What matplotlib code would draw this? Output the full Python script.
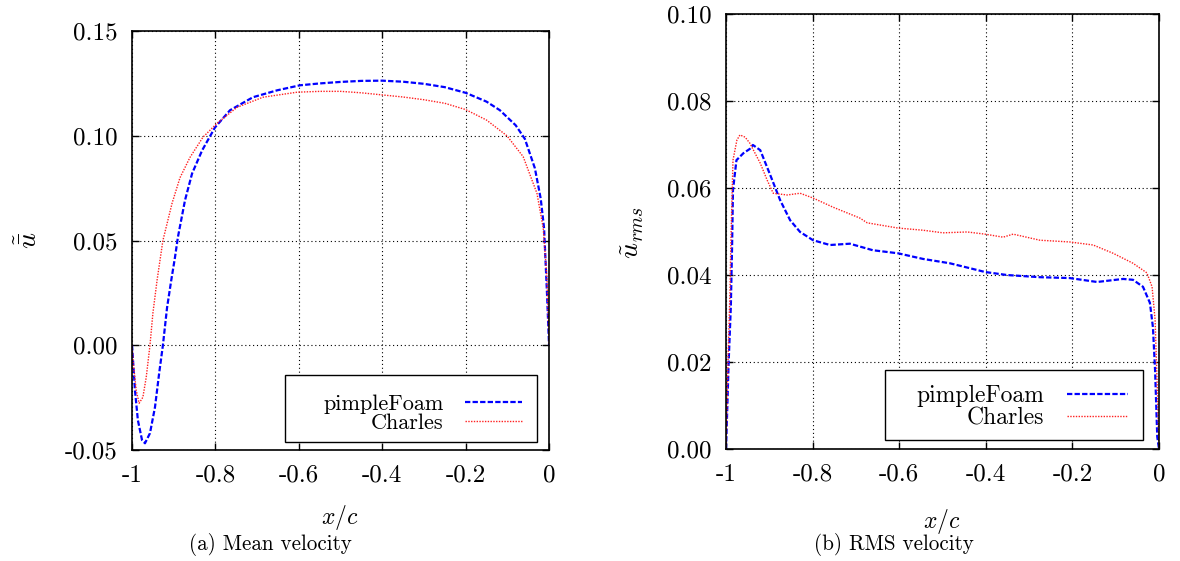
import matplotlib
matplotlib.use('Agg')
import matplotlib.pyplot as plt
from matplotlib.patches import Rectangle

# Mean velocity, pimpleFoam
mean_pf_x = [-1.0, -0.993, -0.986, -0.976, -0.969, -0.957, -0.945, -0.935, -0.926, -0.916,
             -0.906, -0.897, -0.890, -0.873, -0.856, -0.832, -0.801, -0.765, -0.710, -0.652,
             -0.597, -0.549, -0.5, -0.45, -0.4, -0.35, -0.3, -0.25, -0.2, -0.15,
             -0.118, -0.08, -0.058, -0.034, -0.02, -0.012, -0.005, 0.0]
mean_pf_y = [0.0, -0.0215, -0.0358, -0.0453, -0.0468, -0.042, -0.0296, -0.0134, 0.0, 0.018,
             0.031, 0.042, 0.0516, 0.0692, 0.082, 0.093, 0.104, 0.1122, 0.1184, 0.1217,
             0.1241, 0.125, 0.1257, 0.1262, 0.1263, 0.1258, 0.1248, 0.1232, 0.1205, 0.1163,
             0.1122, 0.105, 0.0985, 0.0845, 0.070, 0.056, 0.025, 0.0]

# Mean velocity, Charles
mean_ch_x = [-1.0, -0.997, -0.990, -0.983, -0.974, -0.966, -0.957, -0.950, -0.940, -0.926,
             -0.904, -0.885, -0.861, -0.830, -0.796, -0.748, -0.686, -0.604, -0.549, -0.5,
             -0.45, -0.4, -0.35, -0.3, -0.25, -0.2, -0.15, -0.101, -0.062, -0.029,
             -0.014, -0.005, 0.0]
mean_ch_y = [0.0, -0.0086, -0.0215, -0.0277, -0.0248, -0.0153, 0.0, 0.0153, 0.031, 0.050,
             0.0678, 0.080, 0.0897, 0.0993, 0.106, 0.1136, 0.1184, 0.1208, 0.1212, 0.1212,
             0.1205, 0.1195, 0.1185, 0.1172, 0.1155, 0.1125, 0.1075, 0.1000, 0.0900, 0.0725,
             0.056, 0.032, 0.0]

# RMS velocity, pimpleFoam
rms_pf_x = [-1.0, -0.994, -0.989, -0.986, -0.984, -0.976, -0.96, -0.945, -0.938, -0.921,
            -0.898, -0.875, -0.852, -0.829, -0.799, -0.760, -0.714, -0.661, -0.603, -0.545,
            -0.483, -0.430, -0.402, -0.351, -0.275, -0.206, -0.143, -0.083, -0.060, -0.037,
            -0.021, -0.014, -0.009, -0.004, 0.0]
rms_pf_y = [0.0, 0.020, 0.0326, 0.047, 0.0595, 0.0664, 0.068, 0.069, 0.0699, 0.0687,
            0.063, 0.0572, 0.0526, 0.0499, 0.048, 0.0469, 0.0472, 0.0457, 0.0450, 0.0437,
            0.0427, 0.0414, 0.0407, 0.0400, 0.0395, 0.0393, 0.0384, 0.0391, 0.0389, 0.0373,
            0.0336, 0.028, 0.018, 0.0028, 0.0]

# RMS velocity, Charles
rms_ch_x = [-1.0, -0.995, -0.991, -0.989, -0.986, -0.984, -0.975, -0.968, -0.956, -0.945,
            -0.921, -0.905, -0.891, -0.859, -0.829, -0.799, -0.753, -0.691, -0.674, -0.603,
            -0.545, -0.499, -0.443, -0.402, -0.360, -0.337, -0.275, -0.206, -0.152, -0.106,
            -0.060, -0.028, -0.016, -0.009, -0.004, 0.0]
rms_ch_y = [0.0, 0.022, 0.0359, 0.047, 0.0588, 0.0664, 0.071, 0.0722, 0.0717, 0.0703,
            0.0657, 0.0618, 0.0588, 0.0584, 0.0588, 0.0577, 0.0556, 0.0531, 0.0520, 0.0508,
            0.0503, 0.0497, 0.0499, 0.0494, 0.0487, 0.0494, 0.0480, 0.0476, 0.0469, 0.0450,
            0.0427, 0.0405, 0.0373, 0.0297, 0.0143, 0.0]

x_ticks = [-1, -0.8, -0.6, -0.4, -0.2, 0]
x_ticklabels = ['-1', '-0.8', '-0.6', '-0.4', '-0.2', '0']
mean_yticks = [-0.05, 0.0, 0.05, 0.10, 0.15]
mean_yticklabels = ['-0.05', '0.00', '0.05', '0.10', '0.15']
rms_yticks = [0.0, 0.02, 0.04, 0.06, 0.08, 0.10]
rms_yticklabels = ['0.00', '0.02', '0.04', '0.06', '0.08', '0.10']

plt.rcParams['font.family'] = 'cmr10'
plt.rcParams['mathtext.fontset'] = 'cm'
plt.rcParams['axes.unicode_minus'] = False

TICK_FS = 18
CAP_FS = 15.2
LAB_FS = 20
BLUE = '#0000ff'
RED = '#ff2020'


def style_axes(ax, yticks, yticklabels):
    ax.set_xlim(-1, 0)
    ax.set_xticks(x_ticks)
    ax.set_xticklabels(x_ticklabels, fontsize=TICK_FS)
    ax.set_yticks(yticks)
    ax.set_yticklabels(yticklabels, fontsize=TICK_FS)
    ax.set_ylim(yticks[0], yticks[-1])
    ax.tick_params(direction='in', top=True, right=True, length=5, width=1.0, pad=10.5)
    ax.grid(True, color='black', linestyle=(0, (1, 2.5)), linewidth=0.8)
    for s in ax.spines.values():
        s.set_linewidth(1.2)


def draw(ax, px, py, cx, cy):
    ax.plot(px, py, color=BLUE, linestyle=(0, (2.4, 1.0)), linewidth=1.6, label='pimpleFoam')
    ax.plot(cx, cy, color=RED, linestyle=(0, (1, 1)), linewidth=1.0, label='Charles')


def legend(ax, anchor, box, fs):
    leg = ax.legend(loc='lower right', bbox_to_anchor=anchor, frameon=False, markerfirst=False,
                    fontsize=fs, handlelength=2.6, handletextpad=0.95, labelspacing=0.0,
                    borderpad=0, borderaxespad=0)
    leg.set_zorder(5)
    ax.add_patch(Rectangle(box[:2], box[2], box[3], transform=ax.transAxes, facecolor='white',
                           edgecolor='black', linewidth=1.0, zorder=4, clip_on=False))


fig = plt.figure(figsize=(11.8, 5.61), dpi=100)
ax1 = fig.add_axes([0.1119, 0.1979, 0.3534, 0.7468])
ax2 = fig.add_axes([0.6153, 0.1996, 0.3669, 0.7754])

draw(ax1, mean_pf_x, mean_pf_y, mean_ch_x, mean_ch_y)
style_axes(ax1, mean_yticks, mean_yticklabels)
legend(ax1, (0.936, 0.040), (0.367, 0.019, 0.604, 0.160), 16)

draw(ax2, rms_pf_x, rms_pf_y, rms_ch_x, rms_ch_y)
style_axes(ax2, rms_yticks, rms_yticklabels)
legend(ax2, (0.929, 0.045), (0.367, 0.021, 0.596, 0.161), 17)

fig.text(30 / 1180, 1 - 240 / 561, r'$\tilde{\bar{u}}$', fontsize=LAB_FS, rotation=90, ha='center', va='center')
fig.text(633 / 1180, 1 - 232 / 561, r'$\tilde{u}_{rms}$', fontsize=LAB_FS, rotation=90, ha='center', va='center')
fig.text(340 / 1180, 1 - 517 / 561, r'$x/c$', fontsize=17, ha='center', va='center')
fig.text(942 / 1180, 1 - 521 / 561, r'$x/c$', fontsize=17, ha='center', va='center')
fig.text(270 / 1180, 1 - 545 / 561, '(a) Mean velocity', fontsize=CAP_FS, ha='center', va='center')
fig.text(894 / 1180, 1 - 545 / 561, '(b) RMS velocity', fontsize=CAP_FS, ha='center', va='center')

fig.savefig('out.png', dpi=100)
